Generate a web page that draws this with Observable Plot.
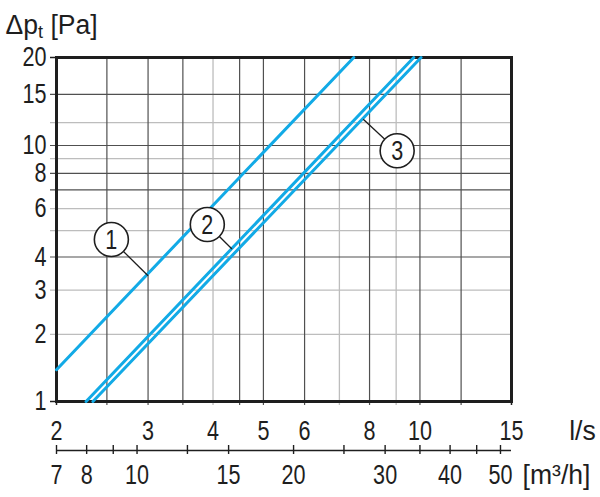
<!DOCTYPE html>
<html>
<head>
<meta charset="utf-8">
<script src="https://cdn.jsdelivr.net/npm/d3@7"></script>
<script src="https://cdn.jsdelivr.net/npm/@observablehq/plot@0.6"></script>
<style>
  html, body { margin: 0; padding: 0; background: #fff; }
  #chart svg { display: block; }
</style>
</head>
<body>
<div id="chart"></div>
<script>
// ---- data ----
const xTickLabels = [2, 3, 4, 5, 6, 8, 10, 15];          // l/s
const yTickLabels = [1, 2, 3, 4, 6, 8, 10, 15, 20];      // Pa
const xGridDark = [2.5, 3, 3.5, 4.5, 5, 6, 8, 10, 12];
const xGridLight = [4, 7, 9];
const yGridDark = [4, 7, 8, 10, 15];
const yGridLight = [2, 3, 5, 6, 9, 12];
const m3hTicks = [7, 8, 9, 10, 12.5, 15, 20, 25, 30, 35, 40, 45, 50];
const m3hLabels = [7, 8, 10, 15, 20, 30, 40, 50];
const m3hPerLs = 3.5;   // as drawn on the reference's second axis

const curveIds = ["1", "1", "2", "2", "3", "3"];
const curveFlow = [2, 7.46, 2.28, 9.73, 2.35, 10.05];    // l/s
const curvePressure = [1.41, 20, 1, 20, 1, 20];          // Pa

const labelIds = ["1", "2", "3"];
const labelFlow = [2.55, 3.90, 9.04];
const labelPressure = [4.64, 5.26, 9.59];
const pointerFlow = [3.0, 4.35, 7.78];
const pointerPressure = [3.40, 4.28, 12.33];

// ---- tables built from the arrays ----
const curves = curveIds.map((id, i) => ({id, flow: curveFlow[i], pressure: curvePressure[i]}));
const labels = labelIds.map((id, i) => ({
  id, flow: labelFlow[i], pressure: labelPressure[i],
  pFlow: pointerFlow[i], pPressure: pointerPressure[i]
}));

const FONT = "'Liberation Sans',Arial,Helvetica,sans-serif";
const FS = 27;
const INK = "#1e1e1e";
const BLUE = "#12aae6";
const T = {fontSize: FS, fill: INK, lineAnchor: "middle", className: "narrow"};
const U = {fontSize: 28, fill: INK, lineAnchor: "middle", className: "unit"};

const plot = Plot.plot({
  width: 600,
  height: 497,
  marginLeft: 56,
  marginRight: 89,
  marginTop: 57,
  marginBottom: 96,
  style: {fontFamily: FONT, background: "#fff", overflow: "visible"},
  x: {type: "log", domain: [2, 15], axis: null},
  y: {type: "symlog", constant: 0.5, domain: [1, 20], axis: null},
  marks: [
    // grid (extending as ticks to the left / below the frame)
    Plot.ruleX(xGridLight, {x: d => d, stroke: "#bdbdbd", strokeWidth: 1.3, insetBottom: -4}),
    Plot.ruleY(yGridLight, {y: d => d, stroke: "#bdbdbd", strokeWidth: 1.3, insetLeft: -6}),
    Plot.ruleX(xGridDark, {x: d => d, stroke: "#505050", strokeWidth: 1.2, insetBottom: -4}),
    Plot.ruleY(yGridDark, {y: d => d, stroke: "#505050", strokeWidth: 1.2, insetLeft: -6}),
    Plot.ruleX([2, 15], {x: d => d, stroke: INK, strokeWidth: 1.5, insetBottom: -4}),
    Plot.ruleY([1, 20], {y: d => d, stroke: INK, strokeWidth: 1.5, insetLeft: -6}),
    Plot.frame({stroke: INK, strokeWidth: 3}),

    // curves
    Plot.line(curves, {x: "flow", y: "pressure", z: "id", stroke: BLUE, strokeWidth: 3}),

    // numbered callouts
    Plot.link(labels, {x1: "flow", y1: "pressure", x2: "pFlow", y2: "pPressure", stroke: INK, strokeWidth: 1.3}),
    Plot.dot(labels, {x: "flow", y: "pressure", r: 17, fill: "white", stroke: INK, strokeWidth: 1.6}),
    Plot.text(labels, {x: "flow", y: "pressure", text: "id", ...T, dy: 1}),

    // y tick labels
    Plot.text(yTickLabels, {y: d => d, text: d => String(d), frameAnchor: "left", textAnchor: "end", dx: -10, ...T}),
    // x tick labels (l/s)
    Plot.text(xTickLabels, {x: d => d, text: d => String(d), frameAnchor: "bottom", dy: 30, ...T}),
    Plot.text(["l/s"], {frameAnchor: "bottom-right", dx: 71, dy: 30, textAnchor: "middle", ...U}),

    // second axis (m³/h)
    Plot.ruleY([1], {y: d => d, dy: 49, stroke: INK, strokeWidth: 1.6}),
    Plot.ruleX(m3hTicks, {x: d => d / m3hPerLs, insetTop: 388, insetBottom: -53, stroke: INK, strokeWidth: 1.4}),
    Plot.text(m3hLabels, {x: d => d / m3hPerLs, text: d => String(d), frameAnchor: "bottom", dy: 74, ...T}),
    Plot.text(["[m³/h]"], {frameAnchor: "bottom-right", dx: 45, dy: 74, textAnchor: "middle", ...U}),

    // title
    Plot.text(["Δpt [Pa]"], {frameAnchor: "top-left", dx: -51, dy: -32, textAnchor: "start", ...U})
  ]
});

// subscript "t" in the title
for (const t of plot.querySelectorAll("text")) {
  if (t.textContent === "Δpt [Pa]") {
    t.textContent = "";
    const sel = d3.select(t);
    sel.append("tspan").text("Δp");
    sel.append("tspan").attr("font-size", 19).attr("dy", 4).text("t");
    sel.append("tspan").attr("dy", -4).text(" [Pa]");
  }
}

// condensed lettering like the reference (horizontal squeeze around each anchor)
function squeeze(selector, k) {
  for (const t of plot.querySelectorAll(selector)) {
    const x = +t.getAttribute("x") || 0;
    const y = +t.getAttribute("y") || 0;
    const tr = t.getAttribute("transform") || "";
    t.setAttribute("transform", `${tr} translate(${x},${y}) scale(${k},1) translate(${-x},${-y})`);
  }
}
squeeze(".narrow text", 0.8);
squeeze(".unit text", 0.95);

document.getElementById("chart").append(plot);
</script>
</body>
</html>
